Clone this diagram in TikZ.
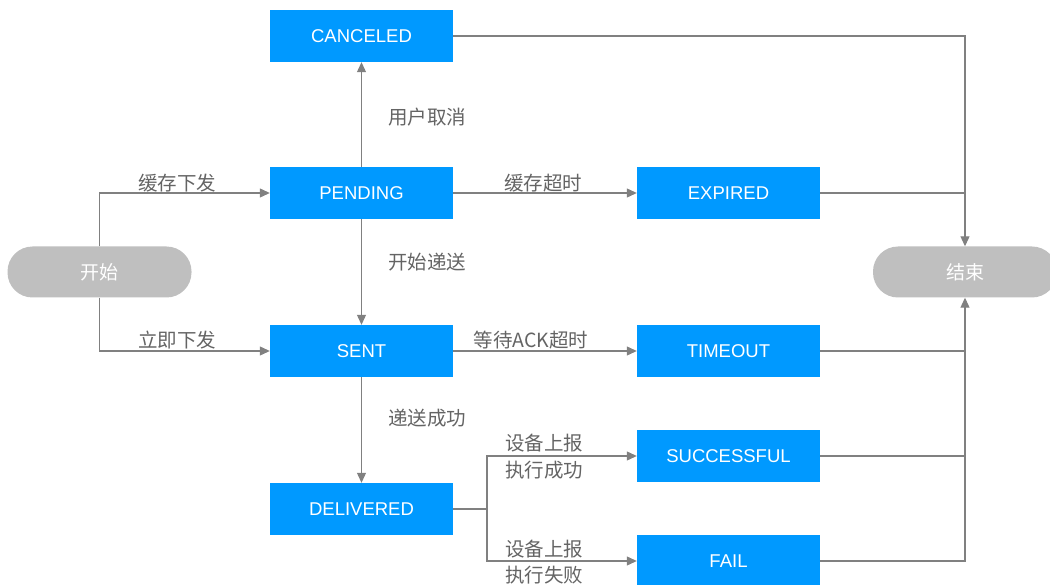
\documentclass[tikz,border=0pt]{standalone}
\usepackage{fontspec}
\setmainfont{Liberation Sans}
\newfontfamily\cjk{Noto Sans CJK SC}
\usetikzlibrary{arrows.meta}
\definecolor{stateblue}{RGB}{0,153,255}
\definecolor{termgray}{RGB}{191,191,191}
\definecolor{linegray}{RGB}{128,128,128}
\definecolor{labelgray}{RGB}{100,100,100}
\tikzset{
  state/.style={fill=stateblue,text=white,minimum width=183pt,minimum height=52pt,inner sep=0pt,font=\fontsize{18.5}{22}\selectfont},
  term/.style={fill=termgray,text=white,rounded corners=25pt,minimum width=184pt,minimum height=51pt,inner sep=0pt,font=\cjk\fontsize{19}{22}\selectfont},
  flow/.style={draw=linegray,line width=1.1pt,-{Triangle[length=10pt,width=9pt]}},
  plain/.style={draw=linegray,line width=1.1pt},
  lbl/.style={text=labelgray,inner sep=0pt,font=\cjk\fontsize{19.5}{22}\selectfont}
}
\begin{document}
\begin{tikzpicture}[x=1pt,y=-1pt]
\useasboundingbox (0,0) rectangle (1050,585);
\clip (0,0) rectangle (1050,585);
% terminals
\node[term] (start) at (99.5,272) {开始};
\node[term] (end) at (965,272) {结束};
% states
\node[state] (canceled) at (361.5,36) {CANCELED};
\node[state] (pending) at (361.5,193) {PENDING};
\node[state] (sent) at (361.5,351) {SENT};
\node[state] (delivered) at (361.5,509) {DELIVERED};
\node[state] (expired) at (728.5,193) {EXPIRED};
\node[state] (timeout) at (728.5,351) {TIMEOUT};
\node[state] (successful) at (728.5,456) {SUCCESSFUL};
\node[state] (fail) at (728.5,561) {FAIL};
% helper points
\coordinate (split) at (487,509);
% start -> pending / sent
\draw[flow] (start.north) |- (pending.west);
\draw[flow] (start.south) |- (sent.west);
\node[lbl] (l1) at (177,183) {缓存下发};
\node[lbl] (l2) at (177,340) {立即下发};
% vertical transitions
\draw[flow] (pending.north) -- (canceled.south);
\draw[flow] (pending.south) -- (sent.north);
\draw[flow] (sent.south) -- (delivered.north);
\node[lbl,anchor=west] (l3) at (388,117) {用户取消};
\node[lbl,anchor=west] (l4) at (388,262) {开始递送};
\node[lbl,anchor=west] (l5) at (388,418) {递送成功};
% horizontal transitions
\draw[flow] (pending.east) -- (expired.west);
\draw[flow] (sent.east) -- (timeout.west);
\node[lbl] (l6) at (543,183) {缓存超时};
\node[lbl] (l7) at (531,340) {等待ACK超时};
% delivered -> reports
\draw[plain] (delivered.east) -- (split);
\draw[flow] (split) |- (successful.west);
\draw[flow] (split) |- (fail.west);
\node[lbl,anchor=west] (l8) at (505,443) {设备上报};
\node[lbl,anchor=west] (l9) at (505,470) {执行成功};
\node[lbl,anchor=west] (l10) at (505,549) {设备上报};
\node[lbl,anchor=west] (l11) at (505,575) {执行失败};
% into end
\draw[flow] (canceled.east) -| (end.north);
\draw[plain] (expired.east) -- (expired.east -| end.north);
\draw[flow] (fail.east) -| (end.south);
\draw[plain] (timeout.east) -- (timeout.east -| end.south);
\draw[plain] (successful.east) -- (successful.east -| end.south);
\end{tikzpicture}
\end{document}
